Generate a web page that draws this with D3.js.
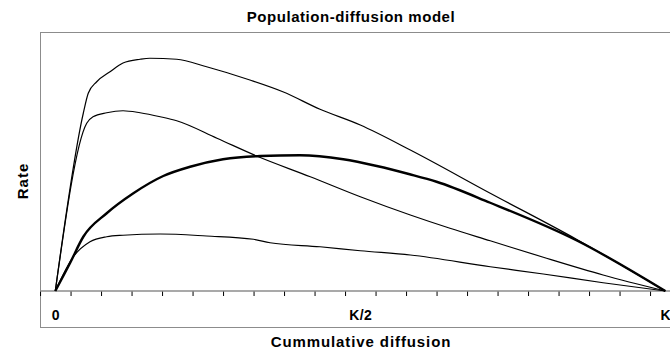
<!DOCTYPE html>
<html>
<head>
<meta charset="utf-8">
<script src="https://cdn.jsdelivr.net/npm/d3@7"></script>
<style>
  html, body { margin: 0; padding: 0; background: #fff; }
  svg { display: block; font-family: "Liberation Sans", Arial, sans-serif; }
</style>
</head>
<body>
<svg id="chart" width="670" height="354"></svg>
<script>
// Cumulative diffusion as a fraction of the ceiling K, with rate values per curve.
const highCurveX = [0, 0.0459, 0.054, 0.0679, 0.0897, 0.111, 0.139, 0.155, 0.199, 0.248, 0.319, 0.373, 0.434, 0.5, 0.582, 0.713, 0.855, 1];
const highCurveY = [0, 71.1, 79.1, 83.7, 87.7, 91.2, 92.7, 93.1, 92.7, 89.7, 84.4, 79.7, 72.7, 66.4, 56.4, 39.1, 20.6, 0];

const upperCurveX = [0, 0.0515, 0.0618, 0.0843, 0.111, 0.139, 0.172, 0.199, 0.265, 0.330, 0.418, 0.5, 0.582, 0.647, 0.713, 0.8, 0.898, 1];
const upperCurveY = [0, 67.1, 69.7, 71.3, 72.1, 71.3, 69.7, 68.1, 61.1, 54.0, 45.7, 37.7, 30.4, 25.1, 20.1, 13.5, 6.4, 0];

const logisticX = [0, 0.024, 0.0459, 0.0843, 0.128, 0.177, 0.221, 0.275, 0.336, 0.401, 0.472, 0.527, 0.581, 0.625, 0.713, 0.855, 1];
const logisticY = [0, 11.1, 21.7, 31.1, 39.1, 46.0, 49.7, 52.7, 54.0, 54.3, 52.7, 50.0, 46.7, 43.7, 35.3, 20.2, 0];

const lowCurveX = [0, 0.0295, 0.0569, 0.0843, 0.111, 0.172, 0.248, 0.325, 0.352, 0.434, 0.5, 0.582, 0.713, 0.8, 0.898, 1];
const lowCurveY = [0, 13.7, 19.7, 21.7, 22.3, 22.8, 22.0, 20.7, 19.3, 17.7, 16.1, 14.4, 9.7, 6.8, 3.3, 0];

// Category axis: 21 categories, tick marks between them, labels at 0, K/2, K.
const categoryCount = 21;
const tickLabels = ["0", "K/2", "K"];
const tickLabelPositions = [0, 0.5, 1];

const titleText = "Population-diffusion model";
const xTitle = "Cummulative diffusion";
const yTitle = "Rate";

const svg = d3.select("#chart");

const frame = { left: 40, top: 32, right: 681, bottom: 327 };
const baseline = 291;

const x = d3.scaleLinear().domain([0, 1]).range([55.3, 665.3]);
const y = d3.scaleLinear().domain([0, 100]).range([baseline, 41]);
const step = (x(1) - x(0)) / (categoryCount - 1);

// plot frame
svg.append("rect")
  .attr("x", frame.left + 0.5).attr("y", frame.top + 0.5)
  .attr("width", frame.right - frame.left).attr("height", frame.bottom - frame.top)
  .attr("fill", "none").attr("stroke", "#8c8c8c").attr("stroke-width", 1);

// tick marks between categories
const tickVals = d3.range(categoryCount + 1).map(i => x.invert(x(0) - step / 2 + i * step));
const tickAxis = d3.axisBottom(x).tickValues(tickVals).tickSize(5).tickFormat("");
const gTicks = svg.append("g").attr("transform", `translate(0,${baseline})`).call(tickAxis);
gTicks.select(".domain").remove();
gTicks.selectAll(".tick line").attr("stroke", "#000").attr("stroke-width", 1);

// axis line
svg.append("line")
  .attr("x1", frame.left).attr("x2", frame.right)
  .attr("y1", baseline).attr("y2", baseline)
  .attr("stroke", "#8c8c8c").attr("stroke-width", 1.6);

// tick labels
const labelAxis = d3.axisBottom(x).tickValues(tickLabelPositions)
  .tickSize(0).tickPadding(0)
  .tickFormat((d, i) => tickLabels[i]);
const gLabels = svg.append("g").attr("transform", `translate(0,${baseline})`).call(labelAxis);
gLabels.select(".domain").remove();
gLabels.selectAll("text")
  .attr("y", 28.5).attr("dy", null)
  .attr("fill", "#000")
  .style("font-size", "14px").style("font-weight", "bold")
  .style("letter-spacing", "0.4px")
  .style("font-family", "'Liberation Sans', Arial, sans-serif");

// curves
const line = d3.line().x(d => x(d[0])).y(d => y(d[1])).curve(d3.curveMonotoneX);
const series = [
  { xs: highCurveX, ys: highCurveY, w: 1.2 },
  { xs: upperCurveX, ys: upperCurveY, w: 1.2 },
  { xs: lowCurveX, ys: lowCurveY, w: 1.2 },
  { xs: logisticX, ys: logisticY, w: 2.4 }
];
series.forEach(s => {
  svg.append("path")
    .datum(s.xs.map((v, i) => [v, s.ys[i]]))
    .attr("fill", "none").attr("stroke", "#000")
    .attr("stroke-width", s.w).attr("stroke-linejoin", "round")
    .attr("d", line);
});

// titles
svg.append("text").attr("x", 351).attr("y", 22)
  .attr("text-anchor", "middle").style("font-size", "15px").style("font-weight", "bold")
  .style("letter-spacing", "0.55px")
  .text(titleText);
svg.append("text").attr("x", 361).attr("y", 347)
  .attr("text-anchor", "middle").style("font-size", "15px").style("font-weight", "bold")
  .style("letter-spacing", "0.9px")
  .text(xTitle);
svg.append("text")
  .attr("transform", "translate(28,181) rotate(-90)")
  .attr("text-anchor", "middle").style("font-size", "15px").style("font-weight", "bold")
  .style("letter-spacing", "1px")
  .text(yTitle);
</script>
</body>
</html>
